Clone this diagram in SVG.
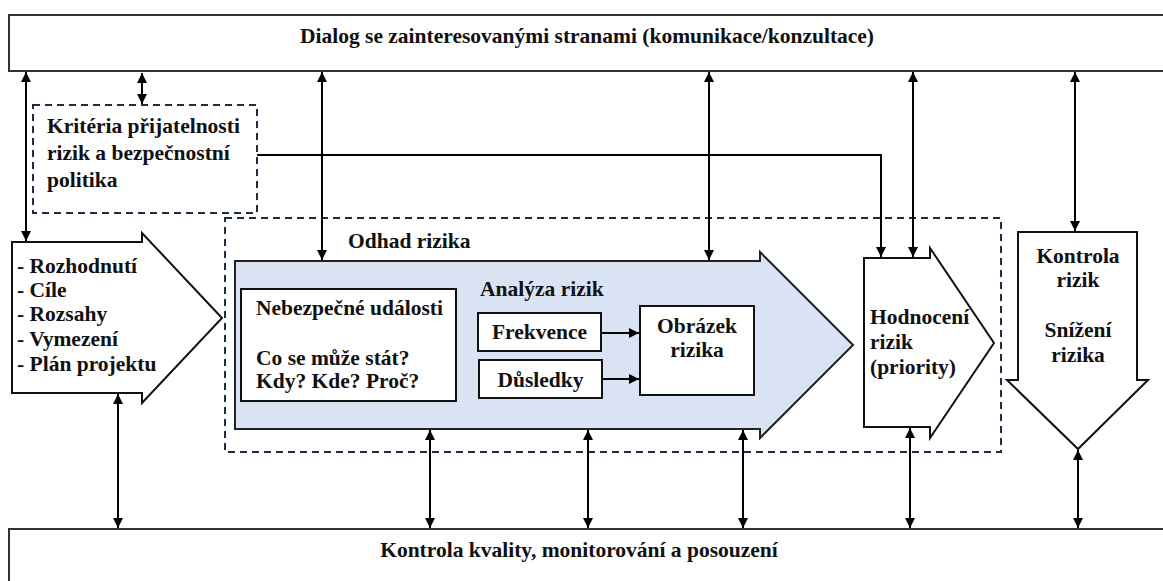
<svg xmlns="http://www.w3.org/2000/svg" width="1163" height="581" viewBox="0 0 1163 581">
<style>
  .t { font-family: "Liberation Serif", "Times New Roman", serif; font-weight: bold; font-size: 21.5px; fill: #111; }
  .box { fill: #fff; stroke: #333; stroke-width: 2; }
  .shape { fill: #fff; stroke: #111; stroke-width: 2; stroke-linejoin: miter; }
  .blue { fill: #dae3f3; stroke: #222; stroke-width: 2; }
  .dash { fill: none; stroke: #1f2b45; stroke-width: 2; stroke-dasharray: 7 5; }
  .c { fill: none; stroke: #000; stroke-width: 2; }
</style>
<defs>
  <marker id="ah" viewBox="0 0 10 10" refX="10" refY="5" markerWidth="5" markerHeight="5" orient="auto-start-reverse" markerUnits="strokeWidth">
    <path d="M0,0 L10,5 L0,10 z" fill="#000"/>
  </marker>
</defs>
<rect width="1163" height="581" fill="#fff"/>

<g id="dialog">
  <rect class="box" x="9" y="15" width="1165" height="56"/>
  <text class="t" x="587" y="43" text-anchor="middle">Dialog se zainteresovanými stranami (komunikace/konzultace)</text>
</g>

<g id="kvalita">
  <rect class="box" x="9" y="529" width="1165" height="60"/>
  <text class="t" x="579" y="557" text-anchor="middle">Kontrola kvality, monitorování a posouzení</text>
</g>

<g id="kriteria">
  <rect class="dash" x="33" y="105" width="224" height="108"/>
  <text class="t" x="47" y="133">Kritéria přijatelnosti</text>
  <text class="t" x="47" y="160">rizik a bezpečnostní</text>
  <text class="t" x="47" y="187">politika</text>
</g>

<g id="vstupy">
  <path class="shape" d="M12,242 L142,242 L142,233 L222,318 L142,403 L142,393 L12,393 Z"/>
  <text class="t" x="17" y="273">- Rozhodnutí</text>
  <text class="t" x="17" y="297">- Cíle</text>
  <text class="t" x="17" y="321">- Rozsahy</text>
  <text class="t" x="17" y="346">- Vymezení</text>
  <text class="t" x="17" y="371">- Plán projektu</text>
</g>

<g id="odhad">
  <rect class="dash" x="225" y="218" width="776" height="234"/>
  <text class="t" x="348" y="248">Odhad rizika</text>
</g>

<g id="analyza">
  <path class="blue" d="M235,261 L760,261 L760,252 L853,345 L760,438 L760,429 L235,429 Z"/>
  <text class="t" x="480" y="296">Analýza rizik</text>
</g>

<g id="nebezpecne">
  <rect class="shape" x="241" y="289" width="215" height="112" stroke-width="1.5"/>
  <text class="t" x="256" y="315">Nebezpečné události</text>
  <text class="t" x="256" y="365">Co se může stát?</text>
  <text class="t" x="256" y="388">Kdy? Kde? Proč?</text>
</g>

<g id="frekvence">
  <rect class="shape" x="478" y="313" width="123" height="38" stroke-width="1.5"/>
  <text class="t" x="539.5" y="339" text-anchor="middle">Frekvence</text>
</g>

<g id="dusledky">
  <rect class="shape" x="479" y="360" width="123" height="38" stroke-width="1.5"/>
  <text class="t" x="540.5" y="387" text-anchor="middle">Důsledky</text>
</g>

<g id="obrazek">
  <rect class="shape" x="640" y="306" width="114" height="89" stroke-width="1.5"/>
  <text class="t" x="697" y="333" text-anchor="middle">Obrázek</text>
  <text class="t" x="697" y="357" text-anchor="middle">rizika</text>
</g>

<g id="hodnoceni">
  <path class="shape" d="M864,258 L930,258 L930,248 L994,343 L930,438 L930,427 L864,427 Z"/>
  <text class="t" x="870" y="324">Hodnocení</text>
  <text class="t" x="870" y="349">rizik</text>
  <text class="t" x="870" y="374">(priority)</text>
</g>

<g id="kontrola">
  <path class="shape" d="M1018,232 L1137,232 L1137,380 L1148,380 L1078,449 L1007,380 L1018,380 Z"/>
  <text class="t" x="1078" y="263" text-anchor="middle">Kontrola</text>
  <text class="t" x="1078" y="287" text-anchor="middle">rizik</text>
  <text class="t" x="1078" y="337" text-anchor="middle">Snížení</text>
  <text class="t" x="1078" y="362" text-anchor="middle">rizika</text>
</g>

<g id="connectors">
  <line class="c" x1="26" y1="72" x2="26" y2="241" marker-start="url(#ah)" marker-end="url(#ah)"/>
  <line class="c" x1="142" y1="73" x2="142" y2="104" marker-start="url(#ah)" marker-end="url(#ah)"/>
  <line class="c" x1="322" y1="72" x2="322" y2="260" marker-start="url(#ah)" marker-end="url(#ah)"/>
  <line class="c" x1="709" y1="72" x2="709" y2="260" marker-start="url(#ah)" marker-end="url(#ah)"/>
  <line class="c" x1="913" y1="72" x2="913" y2="257" marker-start="url(#ah)" marker-end="url(#ah)"/>
  <line class="c" x1="1075" y1="72" x2="1075" y2="231" marker-start="url(#ah)" marker-end="url(#ah)"/>
  <path class="c" d="M257,155 L881,155 L881,257" marker-end="url(#ah)"/>
  <line class="c" x1="118" y1="394" x2="118" y2="528" marker-start="url(#ah)" marker-end="url(#ah)"/>
  <line class="c" x1="430" y1="430" x2="430" y2="528" marker-start="url(#ah)" marker-end="url(#ah)"/>
  <line class="c" x1="588" y1="430" x2="588" y2="528" marker-start="url(#ah)" marker-end="url(#ah)"/>
  <line class="c" x1="743" y1="430" x2="743" y2="528" marker-start="url(#ah)" marker-end="url(#ah)"/>
  <line class="c" x1="910" y1="428" x2="910" y2="528" marker-start="url(#ah)" marker-end="url(#ah)"/>
  <line class="c" x1="1078" y1="450" x2="1078" y2="528" marker-start="url(#ah)" marker-end="url(#ah)"/>
  <line class="c" x1="601" y1="333" x2="639" y2="333" marker-end="url(#ah)"/>
  <line class="c" x1="602" y1="379" x2="639" y2="379" marker-end="url(#ah)"/>
</g>
</svg>
